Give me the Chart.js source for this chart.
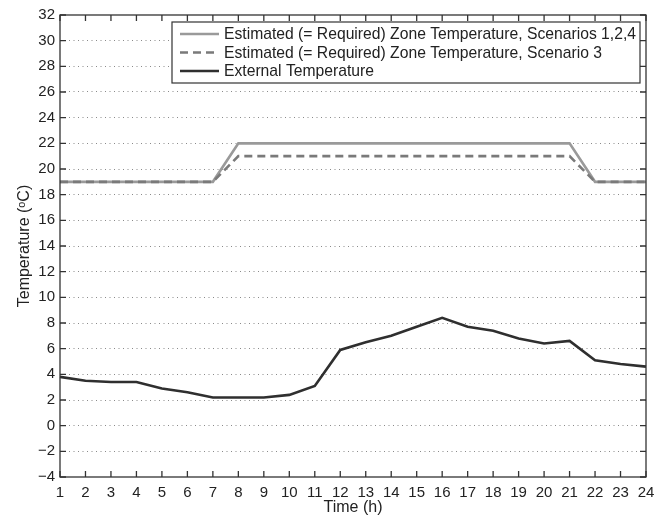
<!DOCTYPE html>
<html lang="en">
<head>
<meta charset="UTF-8">
<title>Zone and external temperature</title>
<script src="https://cdn.jsdelivr.net/npm/chart.js"></script>
<style>
  html, body { margin: 0; padding: 0; background: #fff; }
  #wrap { width: 665px; height: 517px; }
</style>
</head>
<body>
<div id="wrap"><canvas id="myChartCanvas" width="665" height="517"></canvas></div>
<script>
// hours of the day
var hours = [1, 2, 3, 4, 5, 6, 7, 8, 9, 10, 11, 12, 13, 14, 15, 16, 17, 18, 19, 20, 21, 22, 23, 24]

// zone temperature, scenarios 1,2,4
var zoneTemp124 = [19, 19, 19, 19, 19, 19, 19, 22, 22, 22, 22, 22, 22, 22, 22, 22, 22, 22, 22, 22, 22, 19, 19, 19]
// zone temperature, scenario 3
var zoneTemp3 = [19, 19, 19, 19, 19, 19, 19, 21, 21, 21, 21, 21, 21, 21, 21, 21, 21, 21, 21, 21, 21, 19, 19, 19]
// external temperature
var externalTemp = [3.8, 3.5, 3.4, 3.4, 2.9, 2.6, 2.2, 2.2, 2.2, 2.4, 3.1, 5.9, 6.5, 7.0, 7.7, 8.4, 7.7, 7.4, 6.8, 6.4, 6.6, 5.1, 4.8, 4.6]

var seriesNames = [
    "Estimated (= Required) Zone Temperature, Scenarios 1,2,4",
    "Estimated (= Required) Zone Temperature, Scenario 3",
    "External Temperature"
]

var yMin = -4
var yMax = 32
var yStep = 2

var fontFamily = "'Liberation Sans', Arial, sans-serif"

// box around the plot, ticks pointing inward, legend inside the plot
var frame = {
    id: "frame",
    afterDraw: function (chart) {
        var ctx = chart.ctx
        var a = chart.chartArea
        var xs = chart.scales.x
        var ys = chart.scales.y
        var len = 6
        ctx.save()
        ctx.strokeStyle = "#333"
        ctx.lineWidth = 1.3
        ctx.setLineDash([])
        ctx.strokeRect(a.left, a.top, a.right - a.left, a.bottom - a.top)
        ctx.beginPath()
        for (var i = 0; i < xs.ticks.length; i++) {
            var px = xs.getPixelForTick(i)
            ctx.moveTo(px, a.bottom); ctx.lineTo(px, a.bottom - len)
            ctx.moveTo(px, a.top); ctx.lineTo(px, a.top + len)
        }
        for (var j = 0; j < ys.ticks.length; j++) {
            var py = ys.getPixelForValue(ys.ticks[j].value)
            ctx.moveTo(a.left, py); ctx.lineTo(a.left + len, py)
            ctx.moveTo(a.right, py); ctx.lineTo(a.right - len, py)
        }
        ctx.stroke()

        // legend
        var lx = 172, ly = 22, lw = 468, lh = 61
        ctx.fillStyle = "#fff"
        ctx.fillRect(lx, ly, lw, lh)
        ctx.strokeStyle = "#333"
        ctx.lineWidth = 1.2
        ctx.strokeRect(lx, ly, lw, lh)
        ctx.font = "15.7px " + fontFamily
        ctx.textBaseline = "middle"
        ctx.textAlign = "left"
        var sets = chart.data.datasets
        for (var k = 0; k < sets.length; k++) {
            var rowY = ly + 12 + k * 18.5
            ctx.strokeStyle = sets[k].borderColor
            ctx.lineWidth = sets[k].borderWidth
            ctx.setLineDash(sets[k].borderDash || [])
            ctx.beginPath()
            ctx.moveTo(180, rowY); ctx.lineTo(219, rowY)
            ctx.stroke()
            ctx.setLineDash([])
            ctx.fillStyle = "#222"
            ctx.fillText(sets[k].label, 224, rowY + 1)
        }
        ctx.restore()
    }
}

var dados = {
    labels: hours,
    datasets: [
        {
            label: seriesNames[0],
            data: zoneTemp124,
            borderColor: "#9a9a9a",
            borderWidth: 2.6,
            pointRadius: 0,
            fill: false,
            tension: 0,
            order: 3
        },
        {
            label: seriesNames[1],
            data: zoneTemp3,
            borderColor: "#7a7a7a",
            borderWidth: 2.6,
            borderDash: [8, 5],
            pointRadius: 0,
            fill: false,
            tension: 0,
            order: 2
        },
        {
            label: seriesNames[2],
            data: externalTemp,
            borderColor: "#2f2f2f",
            borderWidth: 2.6,
            pointRadius: 0,
            fill: false,
            tension: 0,
            order: 1
        }
    ]
}

const config = {
    type: "line",
    data: dados,
    plugins: [frame],
    options: {
        responsive: false,
        animation: false,
        layout: { padding: { left: 0, right: 19, top: 15, bottom: 0 } },
        plugins: {
            legend: { display: false },
            tooltip: { enabled: false }
        },
        scales: {
            x: {
                type: "category",
                offset: false,
                grid: { display: false, drawTicks: false },
                border: { display: false },
                ticks: {
                    color: "#222",
                    font: { family: fontFamily, size: 15 },
                    padding: 7,
                    maxRotation: 0,
                    autoSkip: false
                },
                title: {
                    display: true,
                    text: "Time (h)",
                    color: "#222",
                    font: { family: fontFamily, size: 16 },
                    padding: { top: 0, bottom: 0 }
                },
                afterFit: function (s) { s.height = 40 }
            },
            y: {
                min: yMin,
                max: yMax,
                ticks: {
                    stepSize: yStep,
                    color: "#222",
                    font: { family: fontFamily, size: 15 },
                    padding: 5,
                    callback: function (v) { return String(v).replace("-", "\u2212") }
                },
                grid: {
                    drawTicks: false,
                    color: function (c) {
                        if (c.tick.value == yMin || c.tick.value == yMax) return "rgba(0,0,0,0)"
                        return "#8a8a8a"
                    },
                    lineWidth: 1
                },
                border: { display: false, dash: [1, 3.5] },
                title: {
                    display: true,
                    text: "Temperature (ᵒC)",
                    color: "#222",
                    font: { family: fontFamily, size: 16 },
                    padding: { top: 15, bottom: 0 }
                },
                afterFit: function (s) { s.width = 60 }
            }
        }
    }
}

let myChart = new Chart(document.getElementById("myChartCanvas"), config)
</script>
</body>
</html>
